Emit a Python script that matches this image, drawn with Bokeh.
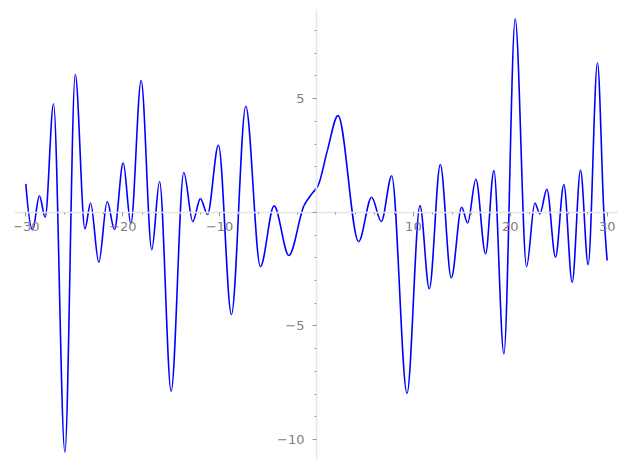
import numpy as np
from bokeh.plotting import figure
from bokeh.models import FixedTicker, Range1d, CustomJSTickFormatter, ColumnDataSource
from bokeh.embed import file_html
from bokeh.resources import INLINE

# ---- data (extrema and shoulder points of the curve) ----
curve_x = [-30.0, -29.3, -28.6, -28.0, -27.14, -25.97, -24.9, -23.9, -23.32, -22.47,
           -21.6, -20.85, -19.95, -19.16, -18.1, -17.0, -16.2, -15.0, -13.7, -12.77,
           -11.98, -11.25, -10.12, -8.78, -7.3, -5.79, -4.38, -2.85, -1.29, -0.5,
           0.16, 1.12, 2.22, 4.35, 5.69, 6.69, 7.76, 9.34, 10.68, 11.64,
           12.78, 13.91, 14.98, 15.6, 16.45, 17.45, 18.31, 19.34, 20.51, 21.68,
           22.54, 23.05, 23.78, 24.67, 25.53, 26.39, 27.25, 28.04, 29.0, 29.66, 30.0]
curve_y = [1.25, -0.77, 0.72, -0.22, 4.77, -10.55, 6.06, -0.73, 0.41, -2.2,
           0.47, -0.76, 2.17, -0.51, 5.79, -1.65, 1.35, -7.87, 1.75, -0.41,
           0.60, -0.10, 2.95, -4.5, 4.66, -2.39, 0.28, -1.9, 0.29, 0.8,
           1.17, 2.71, 4.25, -1.29, 0.66, -0.41, 1.6, -7.96, 0.29, -3.37,
           2.1, -2.89, 0.22, -0.47, 1.45, -1.83, 1.83, -6.23, 8.5, -2.39,
           0.41, -0.07, 1.01, -1.98, 1.22, -3.08, 1.86, -2.31, 6.57, 0.0, -2.12]

x_ticks = [-30, -20, -10, 0, 10, 20, 30]
x_tick_labels = ["\u221230", "\u221220", "\u221210", "", "10", "20", "30"]
x_minor = list(range(-30, 31, 2))
y_ticks = [-10, -5, 0, 5]
y_tick_labels = ["\u221210", "\u22125", "", "5"]
y_minor = list(range(-10, 9))


def pchip_slopes(x, y):
    x = np.asarray(x, float)
    y = np.asarray(y, float)
    h = np.diff(x)
    delta = np.diff(y) / h
    n = len(x)
    d = np.zeros(n)
    for k in range(1, n - 1):
        if delta[k - 1] * delta[k] <= 0:
            d[k] = 0.0
        else:
            w1 = 2 * h[k] + h[k - 1]
            w2 = h[k] + 2 * h[k - 1]
            d[k] = (w1 + w2) / (w1 / delta[k - 1] + w2 / delta[k])

    def end(h0, h1, m0, m1):
        dd = ((2 * h0 + h1) * m0 - h0 * m1) / (h0 + h1)
        if np.sign(dd) != np.sign(m0):
            return 0.0
        if np.sign(m0) != np.sign(m1) and abs(dd) > 3 * abs(m0):
            return 3 * m0
        return dd

    d[0] = end(h[0], h[1], delta[0], delta[1])
    d[-1] = end(h[-1], h[-2], delta[-1], delta[-2])
    return d


cx = np.asarray(curve_x, float)
cy = np.asarray(curve_y, float)
slopes = pchip_slopes(cx, cy)
hh = np.diff(cx)
seg = ColumnDataSource(dict(
    x0=cx[:-1], y0=cy[:-1], x1=cx[1:], y1=cy[1:],
    cx0=cx[:-1] + hh / 3, cy0=cy[:-1] + slopes[:-1] * hh / 3,
    cx1=cx[1:] - hh / 3, cy1=cy[1:] - slopes[1:] * hh / 3,
))

p = figure(
    frame_width=604, frame_height=449,
    x_range=Range1d(-31.17, 31.17), y_range=Range1d(-10.87, 8.87),
    output_backend="svg", toolbar_location=None,
    min_border_left=14, min_border_right=5, min_border_top=10, min_border_bottom=3,
)
p.outline_line_color = None
p.xgrid.visible = False
p.ygrid.visible = False
p.background_fill_color = "white"
p.border_fill_color = "white"

p.bezier(x0="x0", y0="y0", x1="x1", y1="y1", cx0="cx0", cy0="cy0",
         cx1="cx1", cy1="cy1", source=seg, line_color="#0000ff", line_width=1.6)

fmt_code = "const i = tvals.indexOf(tick); return i >= 0 ? tlabels[i] : '';"
for ax, ticks, labels, minor, standoff in (
    (p.xaxis[0], x_ticks, x_tick_labels, x_minor, 6),
    (p.yaxis[0], y_ticks, y_tick_labels, y_minor, 8),
):
    ax.fixed_location = 0
    ax.ticker = FixedTicker(ticks=ticks, minor_ticks=minor)
    ax.formatter = CustomJSTickFormatter(args=dict(tvals=ticks, tlabels=labels), code=fmt_code)
    ax.axis_line_color = "#e6e6e6"
    ax.axis_line_width = 1.6
    ax.major_tick_line_color = "#9a9a9a"
    ax.minor_tick_line_color = "#9a9a9a"
    ax.major_tick_in = 0
    ax.major_tick_out = 4
    ax.minor_tick_in = 0
    ax.minor_tick_out = 2
    ax.major_label_text_color = "#808080"
    ax.major_label_text_font = "DejaVu Sans"
    ax.major_label_text_font_size = "13px"
    ax.major_label_standoff = standoff

open("out.html", "w").write(file_html(p, INLINE))
